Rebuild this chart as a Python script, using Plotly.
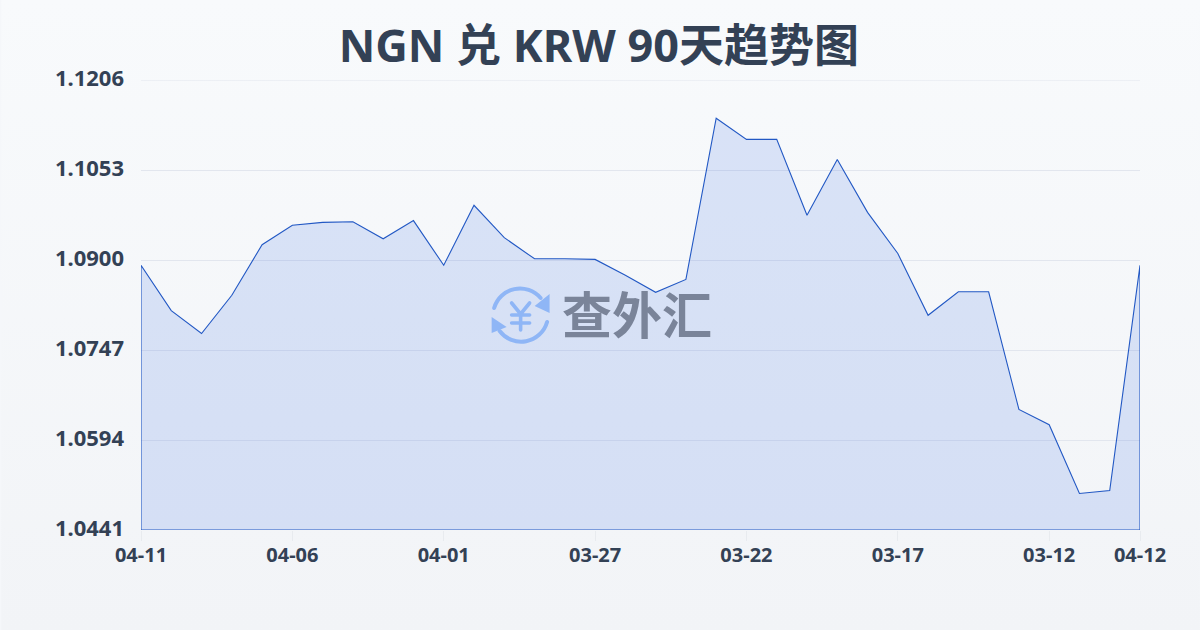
import base64
import plotly.graph_objects as go

dates = ["04-11","04-10","04-09","04-08","04-07","04-06","04-05","04-04","04-03","04-02","04-01",
         "03-31","03-30","03-29","03-28","03-27","03-26","03-25","03-24","03-23","03-22",
         "03-21","03-20","03-19","03-18","03-17","03-16","03-15","03-14","03-13","03-12",
         "03-11","03-10","04-12"]
rates = [1.0891,1.0814,1.0775,1.0840,1.0926,1.0959,1.0964,1.0965,1.0936,1.0967,1.0891,
         1.0993,1.0938,1.0902,1.0902,1.0901,1.0874,1.0845,1.0867,1.1141,1.1105,
         1.1105,1.0976,1.1071,1.0981,1.0911,1.0806,1.0846,1.0846,1.0646,1.0620,
         1.0503,1.0508,1.0891]
y_ticks = [1.0441,1.0594,1.0747,1.0900,1.1053,1.1206]
y_labels = ["1.0441","1.0594","1.0747","1.0900","1.1053","1.1206"]
x_ticks = ["04-11","04-06","04-01","03-27","03-22","03-17","03-12","04-12"]
title = "NGN 兑 KRW 90天趋势图"
watermark = "查外汇"

FONT = "Noto Sans, Noto Sans CJK SC, sans-serif"
INK = "#334155"

def uri(svg):
    return "data:image/svg+xml;base64," + base64.b64encode(svg.encode("utf-8")).decode()

bg_svg = ('<svg xmlns="http://www.w3.org/2000/svg" width="1200" height="630" viewBox="0 0 1200 630" preserveAspectRatio="none">'
          '<defs><linearGradient id="g" x1="0" y1="0" x2="0" y2="1"><stop offset="0" stop-color="#f8fafc"/>'
          '<stop offset="1" stop-color="#f2f4f7"/></linearGradient></defs>'
          '<rect width="1200" height="630" fill="url(#g)"/></svg>')
logo_svg = ('<svg xmlns="http://www.w3.org/2000/svg" width="240" height="240" viewBox="0 0 60 60">'
            '<g fill="none" stroke="#8fb6f6" stroke-width="4" stroke-linecap="round" stroke-linejoin="round">'
            '<path d="M3.5 23 A27 27 0 0 1 50 13"/>'
            '<path d="M56.5 37 A27 27 0 0 1 9 46"/>'
            '<path d="M21 18 L30 29 L39 18 M21 30 H39 M21 38 H39 M30 29 V45" stroke-width="3.6"/></g>'
            '<path d="M59 28 L59 9 L44 21 Z M1 32 L1 48 L16 42 Z" fill="#8fb6f6"/></svg>')

fig = go.Figure()
fig.add_trace(go.Scatter(
    x=dates + [dates[-1], dates[0], dates[0]],
    y=rates + [y_ticks[0], y_ticks[0], rates[0]],
    mode="lines",
    fill="toself",
    fillcolor="rgba(35,90,225,0.14)",
    line=dict(color="#2258c4", width=1.1),
    hoverinfo="skip",
    showlegend=False,
))
edge_grid = [dict(type="line", xref="paper", x0=0, x1=1, yref="y", y0=y_ticks[-1], y1=y_ticks[-1],
                  line=dict(color="#e2e6ee", width=1), layer="below")]
fig.update_layout(
    width=1200, height=630, autosize=False,
    margin=dict(l=140.5, r=59.5, t=80, b=99.5, pad=0),
    paper_bgcolor="#f5f7fa", plot_bgcolor="rgba(0,0,0,0)",
    font=dict(family=FONT, color=INK),
    title=dict(text=title, x=0.499, xanchor="center", y=0.927, yanchor="middle",
               font=dict(family=FONT, size=45, weight=700, color=INK)),
    xaxis=dict(type="category", categoryorder="array", categoryarray=dates, range=[0, len(dates) - 1],
               tickmode="array", tickvals=x_ticks, ticktext=x_ticks,
               ticks="outside", ticklen=10, tickwidth=1, tickcolor="#e8ebef",
               tickfont=dict(family=FONT, size=20, weight=700, color=INK), ticklabelstandoff=-3,
               showgrid=False, showline=False, zeroline=False, automargin=False),
    yaxis=dict(range=[y_ticks[0], y_ticks[-1]], tickmode="array", tickvals=y_ticks, ticktext=y_labels,
               ticks="", ticklen=0, tickfont=dict(family=FONT, size=22, weight=700, color=INK),
               ticklabelstandoff=16, ticklabelshift=-2,
               showgrid=True, gridcolor="#e2e6ee", gridwidth=1, showline=False, zeroline=False,
               automargin=False),
    shapes=edge_grid,
    images=[
        dict(source=uri(bg_svg), xref="paper", yref="paper", x=-0.14, y=1 + 80 / 450,
             sizex=1.2, sizey=630 / 450, xanchor="left", yanchor="top", sizing="stretch", layer="below"),
        dict(source=uri(logo_svg), xref="paper", yref="paper", x=0.35, y=245 / 450,
             sizex=0.06, sizey=60 / 450, xanchor="left", yanchor="top", sizing="stretch", layer="above"),
    ],
    annotations=[dict(text=watermark, xref="paper", yref="paper", x=0.496, y=218 / 450,
                      xanchor="center", yanchor="middle", showarrow=False,
                      font=dict(family="Noto Sans CJK SC, sans-serif", size=50, weight=700, color="#7a8499"))],
)
fig.write_html("out.html", config={"displayModeBar": False},
               post_script="document.body.style.margin='0';document.body.style.background='#f5f7fa';")
